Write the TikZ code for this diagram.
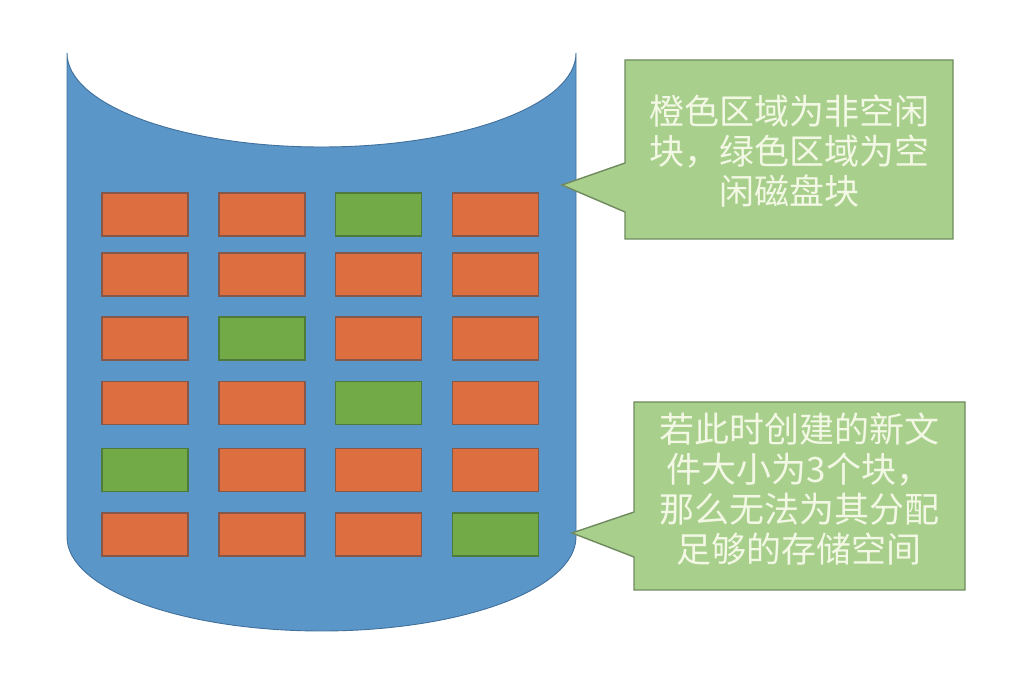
\documentclass[tikz,border=0pt]{standalone}
\usepackage{fontspec}
\newfontfamily\cjk{Noto Sans CJK SC}
\definecolor{cylfill}{HTML}{5B96C9}
\definecolor{cylline}{HTML}{41709C}
\definecolor{orfill}{HTML}{DC6E40}
\definecolor{orline}{HTML}{85584A}
\definecolor{grfill}{HTML}{72AA48}
\definecolor{grline}{HTML}{4E7A3A}
\definecolor{cofill}{HTML}{A8CF8C}
\definecolor{coline}{HTML}{6F8A5E}
\definecolor{cotext}{HTML}{F2F8E4}
\tikzset{
  cyl/.style={fill=cylfill, draw=cylline, line width=0.9pt},
  blk/.style={rectangle, minimum width=86pt, minimum height=43pt, inner sep=0pt, line width=1.2pt},
  orangeblk/.style={blk, fill=orfill, draw=orline},
  greenblk/.style={blk, fill=grfill, draw=grline},
  callout/.style={fill=cofill, draw=coline, line width=1.4pt, line join=miter},
  cotxt/.style={align=center, text=cotext, inner sep=0pt, font=\cjk\fontsize{35}{40}\selectfont}
}
\begin{document}
\begin{tikzpicture}[x=1pt,y=1pt]
\useasboundingbox (0,0) rectangle (1013,678);
% cylinder
\path[cyl] (67,625) -- (67,141)
  arc[start angle=180, end angle=360, x radius=254.5pt, y radius=94pt]
  -- (576,625)
  arc[start angle=0, end angle=-180, x radius=254.5pt, y radius=94pt]
  -- cycle;
% blocks
\foreach \r/\yy/\g in {1/463.5/3, 2/403.5/0, 3/339.5/2, 4/275/3, 5/208/1, 6/143.5/4} {
  \foreach \c/\xx in {1/145, 2/262, 3/378.5, 4/495.5} {
    \ifnum\c=\g
      \node[greenblk] (b\r\c) at (\xx,\yy) {};
    \else
      \node[orangeblk] (b\r\c) at (\xx,\yy) {};
    \fi
  }
}
% callout 1
\coordinate (c1tip) at (562,493);
\path[callout] (625,618) -- (953,618) -- (953,439) -- (625,439) -- (625,466) -- (c1tip) -- (625,515) -- cycle;
\node[cotxt] (t1) at (789,527) {橙色区域为非空闲\\块，绿色区域为空\\闲磁盘块};
% callout 2
\coordinate (c2tip) at (572,145);
\path[callout] (634,276) -- (965,276) -- (965,88) -- (634,88) -- (634,121) -- (c2tip) -- (634,166) -- cycle;
\node[cotxt] (t2) at (799,188.5) {若此时创建的新文\\件大小为3个块，\\那么无法为其分配\\足够的存储空间};
\end{tikzpicture}
\end{document}
